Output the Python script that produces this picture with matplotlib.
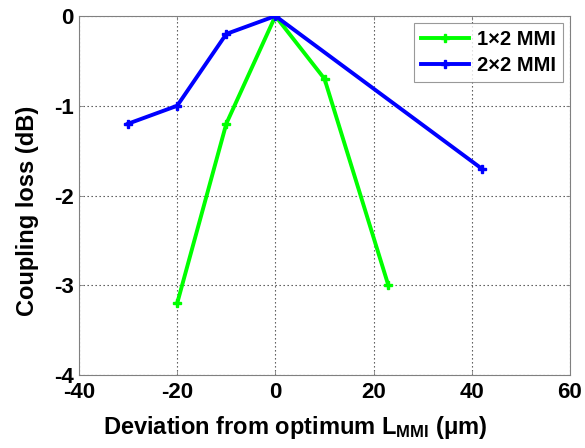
import matplotlib
matplotlib.use("Agg")
import matplotlib.pyplot as plt

plt.rcParams["font.family"] = ["Liberation Sans", "DejaVu Sans"]
plt.rcParams["font.weight"] = "bold"
plt.rcParams["axes.unicode_minus"] = False
plt.rcParams["mathtext.fontset"] = "custom"
plt.rcParams["mathtext.rm"] = "Liberation Sans:bold"
plt.rcParams["mathtext.it"] = "Liberation Sans:bold"
plt.rcParams["mathtext.bf"] = "Liberation Sans:bold"

# Coupling loss vs. length deviation
dev_1x2 = [-20, -10, 0, 10, 23]
loss_1x2 = [-3.2, -1.2, 0.0, -0.7, -3.0]
dev_2x2 = [-30, -20, -10, 0, 42]
loss_2x2 = [-1.2, -1.0, -0.2, 0.0, -1.7]

x_ticks = [-40, -20, 0, 20, 40, 60]
y_ticks = [-4, -3, -2, -1, 0]

fig = plt.figure(figsize=(5.85, 4.48), dpi=100)
ax = fig.add_axes([79 / 585, 1 - 375 / 448, (570 - 79) / 585, (375 - 16) / 448])

ax.plot(dev_1x2, loss_1x2, color="#00ff00", lw=2.8, marker="P", ms=6,
        label="1\u00d72 MMI", zorder=3)
ax.plot(dev_2x2, loss_2x2, color="#0000ff", lw=2.8, marker="P", ms=6,
        label="2\u00d72 MMI", zorder=3)

ax.set_xlim(-40, 60)
ax.set_ylim(-4, 0)
ax.set_xticks(x_ticks)
ax.set_yticks(y_ticks)
ax.tick_params(direction="in", length=3, width=0.6, color="#808080",
               labelsize=16, top=True, right=True)
ax.tick_params(axis="x", pad=5)
ax.tick_params(axis="y", pad=4)
for lab in ax.get_xticklabels() + ax.get_yticklabels():
    lab.set_fontweight("bold")
for sp in ax.spines.values():
    sp.set_color("#808080")
    sp.set_linewidth(0.8)

ax.grid(True, color="#444444", linestyle=(0, (1.2, 2.4)), linewidth=0.8)
ax.set_axisbelow(True)

ax.set_xlabel("Deviation from optimum L$_{\\mathrm{MMI}}$ (\u03bcm)",
              fontsize=17, fontweight="bold")
ax.xaxis.set_label_coords(0.44, -0.108, transform=ax.transAxes)
ax.xaxis.label.set_va("top")
ax.set_ylabel("Coupling loss (dB)", fontsize=17, fontweight="bold")
ax.yaxis.set_label_coords(-0.104, 0.457, transform=ax.transAxes)
ax.yaxis.label.set_va("center")

leg = ax.legend(loc="upper right", fontsize=14.5, frameon=True, fancybox=False,
                edgecolor="#808080", handlelength=2.4, borderpad=0.35,
                labelspacing=0.35, handletextpad=0.4, borderaxespad=0,
                bbox_to_anchor=(0.986, 0.98))
leg.get_frame().set_linewidth(0.8)
for t in leg.get_texts():
    t.set_fontweight("bold")

fig.savefig("out.png", dpi=100)
